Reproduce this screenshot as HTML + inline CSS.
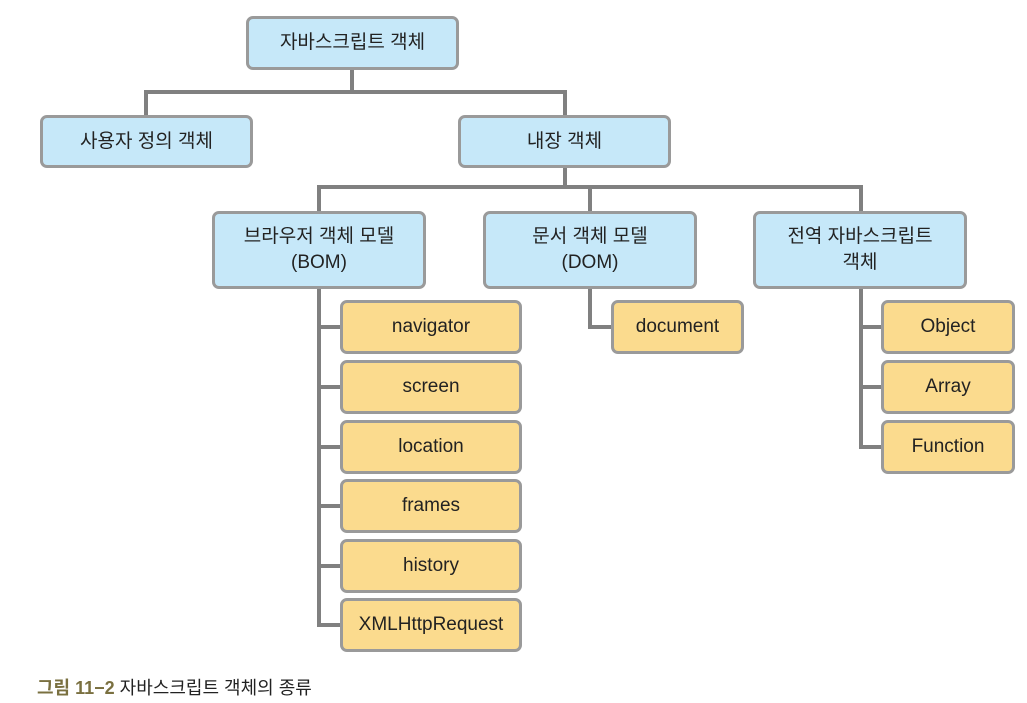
<!DOCTYPE html>
<html><head><meta charset="utf-8"><style>
body{margin:0;width:1027px;height:703px;background:#fff;position:relative;overflow:hidden;font-family:"Liberation Sans","Noto Sans CJK KR",sans-serif;}
.b{position:absolute;box-sizing:border-box;border:3px solid #9a9a9a;border-radius:7px;display:flex;align-items:center;justify-content:center;text-align:center;color:#222;font-size:19px;line-height:26px;}
.bl{background:#c6e8f9;}
.y{background:#fbdb8e;}
.l{position:absolute;background:#808080;}
</style></head><body>
<div class="l" style="left:144px;top:90px;width:423px;height:4px"></div>
<div class="l" style="left:350px;top:69px;width:4px;height:23px"></div>
<div class="l" style="left:144px;top:90px;width:4px;height:26px"></div>
<div class="l" style="left:563px;top:90px;width:4px;height:26px"></div>
<div class="l" style="left:563px;top:166px;width:4px;height:22px"></div>
<div class="l" style="left:317px;top:185px;width:546px;height:4px"></div>
<div class="l" style="left:317px;top:185px;width:4px;height:28px"></div>
<div class="l" style="left:588px;top:185px;width:4px;height:28px"></div>
<div class="l" style="left:859px;top:185px;width:4px;height:28px"></div>
<div class="l" style="left:317px;top:288px;width:4px;height:339px"></div>
<div class="l" style="left:317px;top:325px;width:25px;height:4px"></div>
<div class="l" style="left:317px;top:385px;width:25px;height:4px"></div>
<div class="l" style="left:317px;top:445px;width:25px;height:4px"></div>
<div class="l" style="left:317px;top:504px;width:25px;height:4px"></div>
<div class="l" style="left:317px;top:564px;width:25px;height:4px"></div>
<div class="l" style="left:317px;top:623px;width:25px;height:4px"></div>
<div class="l" style="left:588px;top:288px;width:4px;height:41px"></div>
<div class="l" style="left:588px;top:325px;width:25px;height:4px"></div>
<div class="l" style="left:859px;top:288px;width:4px;height:161px"></div>
<div class="l" style="left:859px;top:325px;width:25px;height:4px"></div>
<div class="l" style="left:859px;top:385px;width:25px;height:4px"></div>
<div class="l" style="left:859px;top:445px;width:25px;height:4px"></div>

<div class="b bl" style="left:246px;top:16px;width:213px;height:54px">자바스크립트 객체</div>
<div class="b bl" style="left:40px;top:115px;width:213px;height:53px">사용자 정의 객체</div>
<div class="b bl" style="left:458px;top:115px;width:213px;height:53px">내장 객체</div>
<div class="b bl" style="left:212px;top:211px;width:214px;height:78px">브라우저 객체 모델<br>(BOM)</div>
<div class="b bl" style="left:483px;top:211px;width:214px;height:78px">문서 객체 모델<br>(DOM)</div>
<div class="b bl" style="left:753px;top:211px;width:214px;height:78px">전역 자바스크립트<br>객체</div>

<div class="b y" style="left:340px;top:300px;width:182px;height:54px">navigator</div>
<div class="b y" style="left:340px;top:360px;width:182px;height:54px">screen</div>
<div class="b y" style="left:340px;top:420px;width:182px;height:54px">location</div>
<div class="b y" style="left:340px;top:479px;width:182px;height:54px">frames</div>
<div class="b y" style="left:340px;top:539px;width:182px;height:54px">history</div>
<div class="b y" style="left:340px;top:598px;width:182px;height:54px">XMLHttpRequest</div>
<div class="b y" style="left:611px;top:300px;width:133px;height:54px">document</div>
<div class="b y" style="left:881px;top:300px;width:134px;height:54px">Object</div>
<div class="b y" style="left:881px;top:360px;width:134px;height:54px">Array</div>
<div class="b y" style="left:881px;top:420px;width:134px;height:54px">Function</div>

<div style="position:absolute;left:37px;top:674px;font-size:18px;color:#222;white-space:nowrap"><span style="color:#7a7040;font-weight:bold">그림 11−2</span> 자바스크립트 객체의 종류</div>
</body></html>
